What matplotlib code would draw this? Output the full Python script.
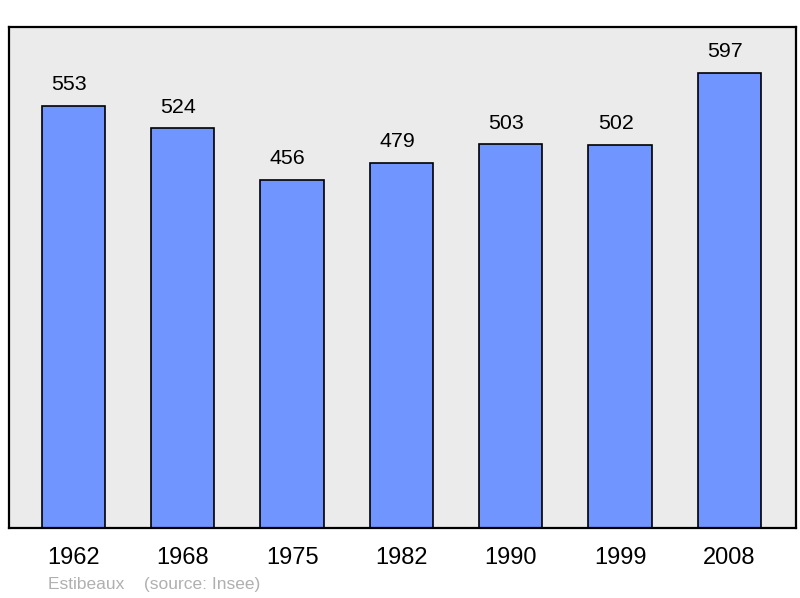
import matplotlib
matplotlib.use("Agg")
import matplotlib.pyplot as plt

plt.rcParams["font.family"] = ["Liberation Sans", "DejaVu Sans"]

years = ["1962", "1968", "1975", "1982", "1990", "1999", "2008"]
population = [553, 524, 456, 479, 503, 502, 597]

fig = plt.figure(figsize=(8, 5.98), dpi=100)
ax = fig.add_axes([9 / 800, 70 / 598, 787 / 800, 501 / 598])
ax.set_facecolor("#ebebeb")

x = list(range(len(years)))
ax.bar(x, population, width=0.58, color="#7095ff", edgecolor="black", linewidth=1.2, zorder=2)

# value labels sit slightly left of bar centre, as in the original
for xi, v in zip(x, population):
    ax.text(xi - 0.04, v + 28, str(v), ha="center", va="center", fontsize=15.4)

ax.set_xlim(-0.59, 6.61)
ax.set_ylim(0, 657)
ax.set_xticks(x)
ax.set_xticklabels(years, fontsize=17)
ax.tick_params(axis="x", length=0, pad=14)
ax.set_yticks([])
for s in ax.spines.values():
    s.set_linewidth(1.6)

fig.text(48 / 800, 1 - 584 / 598, "Estibeaux    (source: Insee)", color="#b0b0b0",
         fontsize=12.5, va="center", ha="left")

fig.savefig("out.png", dpi=100)
